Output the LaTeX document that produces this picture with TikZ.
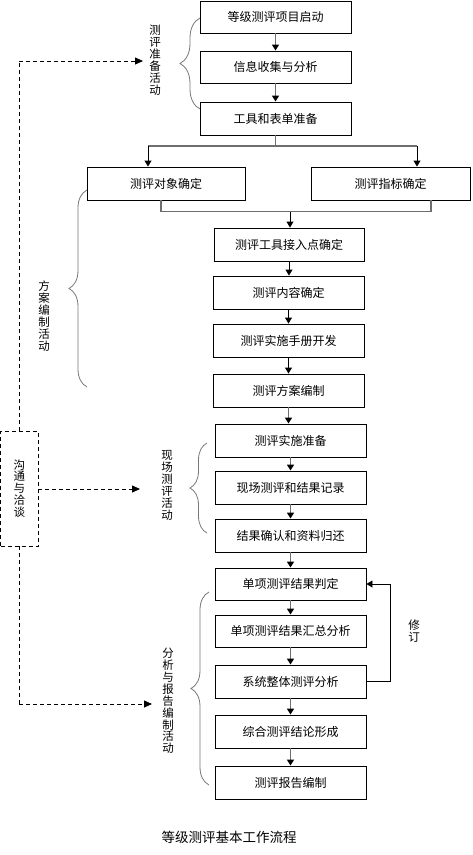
\documentclass[tikz,border=0pt]{standalone}
\usepackage{fontspec}
\setmainfont{Noto Sans CJK SC}
\usetikzlibrary{arrows.meta,decorations.pathreplacing,calc}
\definecolor{lgray}{RGB}{110,110,110}
\definecolor{bgray}{RGB}{120,120,120}
\tikzset{
  box/.style={draw=black,line width=0.9pt,fill=white,inner sep=0pt,
    font=\fontsize{12}{14}\selectfont},
  garr/.style={draw=lgray,line width=1.6pt,-{Triangle[length=6pt,width=7pt,color=black]}},
  barr/.style={draw=black,line width=0.9pt,-{Triangle[length=6pt,width=7pt,color=black]}},
  gline/.style={draw=lgray,line width=1.6pt},
  dsh/.style={draw=black,line width=0.8pt,dash pattern=on 4pt off 3pt},
  dsharr/.style={dsh,-{Triangle[length=8pt,width=7pt,color=black]}},
  brc/.style={draw=bgray,line width=0.8pt,decorate,decoration={brace,amplitude=#1}},
  vlab/.style={align=center,inner sep=0pt,font=\fontsize{11.5}{11.9}\selectfont},
}
\begin{document}
\begin{tikzpicture}[x=1pt,y=-1pt]
\useasboundingbox (0,0) rectangle (473,855);
% boxes
\node[box,minimum width=151pt,minimum height=32pt] (b1) at (275.5,17) {等级测评项目启动};
\node[box,minimum width=151pt,minimum height=32pt] (b2) at (275.5,67) {信息收集与分析};
\node[box,minimum width=151pt,minimum height=33pt] (b3) at (275.5,118.5) {工具和表单准备};
\node[box,minimum width=158pt,minimum height=33pt] (b4) at (166,183.5) {测评对象确定};
\node[box,minimum width=159pt,minimum height=33pt] (b5) at (390.5,183.5) {测评指标确定};
\node[box,minimum width=150pt,minimum height=33pt] (b6) at (289,244.5) {测评工具接入点确定};
\node[box,minimum width=151pt,minimum height=33pt] (b7) at (288.5,292.5) {测评内容确定};
\node[box,minimum width=151pt,minimum height=33pt] (b8) at (288.5,340.5) {测评实施手册开发};
\node[box,minimum width=151pt,minimum height=33pt] (b9) at (288.5,390.5) {测评方案编制};
\node[box,minimum width=151pt,minimum height=33pt] (b10) at (290.5,440.5) {测评实施准备};
\node[box,minimum width=151pt,minimum height=33pt] (b11) at (290.5,487.5) {现场测评和结果记录};
\node[box,minimum width=151pt,minimum height=33pt] (b12) at (290.5,535.5) {结果确认和资料归还};
\node[box,minimum width=151pt,minimum height=32pt] (b13) at (290.5,584) {单项测评结果判定};
\node[box,minimum width=151pt,minimum height=32pt] (b14) at (290.5,631) {单项测评结果汇总分析};
\node[box,minimum width=151pt,minimum height=33pt] (b15) at (290.5,681.5) {系统整体测评分析};
\node[box,minimum width=151pt,minimum height=33pt] (b16) at (290.5,731.5) {综合测评结论形成};
\node[box,minimum width=151pt,minimum height=33pt] (b17) at (290.5,782.5) {测评报告编制};
% top arrows
\draw[garr] (b1.south) -- (b2.north);
\draw[garr] (b2.south) -- (b3.north);
% branch
\coordinate (j1) at (275.5,146);
\coordinate (jl) at (148,146);
\coordinate (jr) at (417,146);
\draw[gline] (b3.south) -- (j1);
\draw[gline] (jl) -- (jr);
\draw[barr] (jl) -- (jl |- b4.north);
\draw[barr] (jr) -- (jr |- b5.north);
% merge
\coordinate (ml) at (161,211.5);
\coordinate (mr) at (431,211.5);
\coordinate (mc) at (290,211.5);
\draw[gline,line width=1.2pt] (ml |- b4.south) -- (ml) -- (mr) -- (mr |- b5.south);
\draw[barr] (mc) -- (mc |- b6.north);
% chain
\draw[barr] (b6.south) -- (b6.south |- b7.north);
\draw[barr] (b7.south) -- (b7.south |- b8.north);
\draw[barr] (b8.south) -- (b8.south |- b9.north);
\draw[garr] (b9.south) -- (b9.south |- b10.north);
\draw[garr] (b10.south) -- (b11.north);
\draw[garr] (b11.south) -- (b12.north);
\draw[garr] (b12.south) -- (b13.north);
\draw[garr] (b13.south) -- (b14.north);
\draw[garr] (b14.south) -- (b15.north);
\draw[garr] (b15.south) -- (b16.north);
\draw[garr] (b16.south) -- (b17.north);
% feedback
\draw[barr] (b15.east) -- ++(24,0) |- (b13.east);
\node[vlab] (rev) at (414,631.5) {修\\订};
% braces
\draw[brc=20pt] (200,109) -- (200,18);
\draw[brc=18pt] (87,387) -- (87,190);
\draw[brc=17pt] (207,533) -- (207,443);
\draw[brc=18pt] (209,785) -- (209,592);
% brace labels
\node[vlab] (l1) at (155,60) {测\\评\\准\\备\\活\\动};
\node[vlab] (l2) at (44,316) {方\\案\\编\\制\\活\\动};
\node[vlab] (l3) at (167,485.5) {现\\场\\测\\评\\活\\动};
\node[vlab] (l4) at (168,701) {分\\析\\与\\报\\告\\编\\制\\活\\动};
% communication
\node[dsh,minimum width=37.5pt,minimum height=115pt,inner sep=0pt,vlab] (cm) at (19.25,488.5) {沟\\通\\与\\洽\\谈};
\coordinate (dt) at (19,61);
\coordinate (db) at (19,704);
\coordinate (a1) at (143,61);
\coordinate (a2) at (140,489);
\coordinate (a3) at (152,704);
\draw[dsh] (cm.north -| dt) -- (dt);
\draw[dsharr] (dt) -- (a1);
\draw[dsh] (cm.south -| db) -- (db);
\draw[dsharr] (db) -- (a3);
\draw[dsharr] (cm.east |- a2) -- (a2);
% caption
\node[font=\fontsize{13.5}{15}\selectfont] (cap) at (229,837) {等级测评基本工作流程};
\end{tikzpicture}
\end{document}
